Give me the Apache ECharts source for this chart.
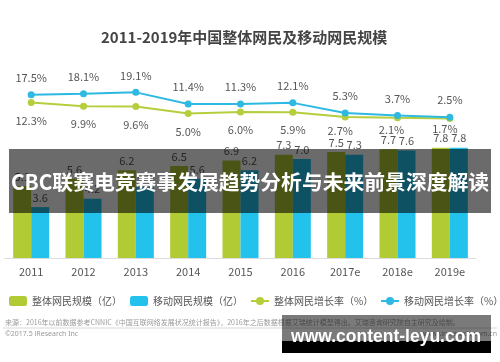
<!DOCTYPE html>
<html>
<head>
<meta charset="utf-8">
<script src="https://cdn.jsdelivr.net/npm/echarts@6/dist/echarts.min.js"></script>
<style>
html,body{margin:0;padding:0;background:#fff;}
#chart{width:500px;height:362px;}
</style>
</head>
<body>
<div id="chart"></div>
<script>
var categories = ['2011', '2012', '2013', '2014', '2015', '2016', '2017e', '2018e', '2019e'];
var totalUsers = [5.1, 5.6, 6.2, 6.5, 6.9, 7.3, 7.5, 7.7, 7.8];
var mobileUsers = [3.6, 4.2, 5.0, 5.6, 6.2, 7.0, 7.3, 7.6, 7.8];
var totalGrowth = [12.3, 9.9, 9.6, 5.0, 6.0, 5.9, 2.7, 2.1, 1.7];
var mobileGrowth = [17.5, 18.1, 19.1, 11.4, 11.3, 12.1, 5.3, 3.7, 2.5];
var seriesNames = ['整体网民规模（亿）', '移动网民规模（亿）', '整体网民增长率（%）', '移动网民增长率（%）'];

var FONT = '"Noto Sans CJK SC", "Noto Sans", sans-serif';
var GREEN = '#b1cb34';
var BLUE = '#22c2ec';
var LGREEN = '#b6cd3c';
var LBLUE = '#2db9e2';

var chart = echarts.init(document.getElementById('chart'), null, {renderer: 'canvas'});

function legendAt(name, left) {
  return {
    data: [name], left: left, top: 291, itemWidth: 18, itemHeight: 10, itemGap: 4,
    textStyle: {fontFamily: FONT, fontSize: 10, color: '#555'}
  };
}
function pct(p) { return p.value.toFixed(1) + '%'; }
function one(p) { return p.value.toFixed(1); }

// the later (forecast) green labels sit closer to their points in the reference
var greenItems = totalGrowth.map(function (v, i) {
  var item = {value: v};
  if (i === 6) item.label = {distance: 5, offset: [-5, 0]};
  if (i === 7) item.label = {distance: 3, offset: [-6, 0]};
  if (i === 8) item.label = {distance: 1, offset: [-5, 0]};
  return item;
});

var option = {
  backgroundColor: '#fff',
  animation: false,
  title: {
    text: '2011-2019年中国整体网民及移动网民规模',
    left: 96, top: 25,
    textStyle: {fontFamily: FONT, fontSize: 15, fontWeight: 'bold', color: '#444'}
  },
  legend: [
    legendAt(seriesNames[0], 4),
    legendAt(seriesNames[1], 125),
    legendAt(seriesNames[2], 245),
    legendAt(seriesNames[3], 375)
  ],
  grid: {left: 5, right: 24, top: 70, bottom: 104, containLabel: false},
  xAxis: {
    type: 'category', data: categories,
    axisLine: {lineStyle: {color: '#dcdcdc'}},
    axisTick: {show: false},
    axisLabel: {fontFamily: FONT, fontSize: 11, color: '#555', margin: 8}
  },
  yAxis: [
    {type: 'value', min: 0, max: 13.3, show: false, splitLine: {show: false}},
    {type: 'value', min: -91.3, max: 34, show: false, splitLine: {show: false}}
  ],
  series: [
    {
      name: seriesNames[0], type: 'bar', data: totalUsers, barWidth: 18, barGap: '0%',
      itemStyle: {color: GREEN},
      label: {show: true, position: 'top', distance: 4, fontFamily: FONT, fontSize: 11, color: '#555', formatter: one}
    },
    {
      name: seriesNames[1], type: 'bar', data: mobileUsers, barWidth: 18, barGap: '0%',
      itemStyle: {color: BLUE},
      label: {show: true, position: 'top', distance: 4, fontFamily: FONT, fontSize: 11, color: '#555', formatter: one}
    },
    {
      name: seriesNames[2], type: 'line', yAxisIndex: 1, data: greenItems,
      symbol: 'circle', symbolSize: 7,
      lineStyle: {color: LGREEN, width: 2}, itemStyle: {color: LGREEN},
      label: {show: true, position: 'bottom', distance: 9, fontFamily: FONT, fontSize: 11, color: '#555', formatter: pct}
    },
    {
      name: seriesNames[3], type: 'line', yAxisIndex: 1, data: mobileGrowth,
      symbol: 'circle', symbolSize: 7,
      lineStyle: {color: LBLUE, width: 2}, itemStyle: {color: LBLUE},
      label: {show: true, position: 'top', distance: 8, fontFamily: FONT, fontSize: 11, color: '#555', formatter: pct}
    }
  ],
  graphic: [
    {type: 'text', left: 5, top: 319, z: 90,
      style: {text: '来源：2016年以前数据参考CNNIC《中国互联网络发展状况统计报告》，2016年之后数据根据艾瑞统计模型得出。艾瑞咨询研究院自主研究及绘制。',
        font: '7px "Noto Sans CJK SC"', fill: '#999'}},
    {type: 'line', z: 90, shape: {x1: 3, y1: 328, x2: 497, y2: 328}, style: {stroke: '#d8d8d8', lineWidth: 1}},
    {type: 'text', left: 5, top: 330, z: 90,
      style: {text: '©2017.5 iResearch Inc', font: '7px "Noto Sans", sans-serif', fill: '#999'}},
    {type: 'text', right: 3, top: 330, z: 90,
      style: {text: 'www.iresearch.com.cn', font: '7px "Noto Sans", sans-serif', fill: '#999'}},
    {type: 'rect', z: 100, shape: {x: 9, y: 149, width: 482, height: 64}, style: {fill: 'rgba(0,0,0,0.58)'}},
    {type: 'text', z: 101, x: 250, y: 182,
      style: {text: 'CBC联赛电竞赛事发展趋势分析与未来前景深度解读', font: 'bold 20.8px "Noto Sans CJK SC"',
        fill: '#fff', align: 'center', verticalAlign: 'middle'}},
    {type: 'rect', z: 100, shape: {x: 282, y: 315, width: 209, height: 26}, style: {fill: 'rgba(0,0,0,0.52)'}},
    {type: 'rect', z: 100, shape: {x: 282, y: 341, width: 209, height: 12}, style: {fill: '#000'}},
    {type: 'text', z: 101, x: 386, y: 337,
      style: {text: 'www.content-leyu.com', font: 'bold 17.5px "Liberation Sans", Arial, sans-serif',
        fill: '#fff', align: 'center', verticalAlign: 'middle'}}
  ]
};
chart.setOption(option);
</script>
</body>
</html>
